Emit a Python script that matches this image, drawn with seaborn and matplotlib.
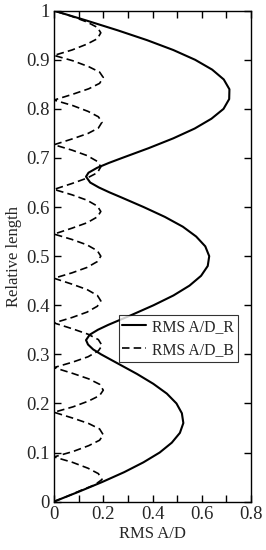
"""
RMS A/D along the relative length: R and B curves.
"""

import matplotlib

matplotlib.use("Agg")
import matplotlib.pyplot as plt
import numpy as np
import pandas as pd
import seaborn as sns
from matplotlib.ticker import FuncFormatter, MultipleLocator

# solid curve, RMS A/D_R
r_length = [0.00, 0.02, 0.04, 0.06, 0.08, 0.10, 0.12, 0.14, 0.16, 0.18,
            0.20, 0.22, 0.24, 0.26, 0.28, 0.30, 0.31, 0.32, 0.329, 0.34,
            0.35, 0.36, 0.38, 0.40, 0.42, 0.44, 0.46, 0.48, 0.50, 0.52,
            0.54, 0.56, 0.58, 0.60, 0.62, 0.63, 0.64, 0.65, 0.662, 0.67,
            0.68, 0.69, 0.70, 0.72, 0.74, 0.76, 0.78, 0.80, 0.82, 0.84,
            0.86, 0.88, 0.90, 0.92, 0.94, 0.96, 0.98, 1.00]
r_rms = [0.000, 0.100, 0.196, 0.285, 0.363, 0.429, 0.478, 0.511, 0.525, 0.519,
         0.497, 0.458, 0.403, 0.337, 0.264, 0.191, 0.159, 0.138, 0.130, 0.145,
         0.178, 0.220, 0.314, 0.404, 0.485, 0.550, 0.597, 0.624, 0.630, 0.614,
         0.577, 0.523, 0.450, 0.364, 0.272, 0.225, 0.182, 0.147, 0.130, 0.140,
         0.175, 0.223, 0.276, 0.384, 0.484, 0.571, 0.639, 0.688, 0.711, 0.712,
         0.689, 0.642, 0.573, 0.484, 0.378, 0.259, 0.132, 0.000]

# dashed curve, RMS A/D_B (eleven lobes)
b_length = [0.000, 0.011, 0.023, 0.034, 0.045, 0.057, 0.068, 0.080, 0.091,
            0.102, 0.114, 0.125, 0.136, 0.148, 0.159, 0.170, 0.182,
            0.193, 0.205, 0.216, 0.227, 0.239, 0.250, 0.261, 0.273,
            0.284, 0.295, 0.307, 0.318, 0.330, 0.341, 0.352, 0.364,
            0.375, 0.386, 0.398, 0.409, 0.420, 0.432, 0.443, 0.455,
            0.466, 0.477, 0.489, 0.500, 0.511, 0.523, 0.534, 0.545,
            0.557, 0.568, 0.580, 0.591, 0.602, 0.614, 0.625, 0.636,
            0.648, 0.659, 0.670, 0.682, 0.693, 0.705, 0.716, 0.727,
            0.739, 0.750, 0.761, 0.773, 0.784, 0.795, 0.807, 0.818,
            0.830, 0.841, 0.852, 0.864, 0.875, 0.886, 0.898, 0.909,
            0.920, 0.932, 0.943, 0.955, 0.966, 0.977, 0.989, 1.000]
b_rms = [0.000, 0.055, 0.110, 0.165, 0.195, 0.180, 0.138, 0.075, 0.000,
         0.077, 0.141, 0.185, 0.200, 0.185, 0.141, 0.077, 0.000,
         0.077, 0.141, 0.185, 0.200, 0.185, 0.141, 0.077, 0.000,
         0.075, 0.138, 0.180, 0.195, 0.180, 0.138, 0.075, 0.000,
         0.073, 0.134, 0.176, 0.190, 0.176, 0.134, 0.073, 0.000,
         0.073, 0.134, 0.176, 0.190, 0.176, 0.134, 0.073, 0.000,
         0.073, 0.134, 0.176, 0.190, 0.176, 0.134, 0.073, 0.000,
         0.073, 0.134, 0.176, 0.190, 0.176, 0.134, 0.073, 0.000,
         0.075, 0.138, 0.180, 0.195, 0.180, 0.138, 0.075, 0.000,
         0.077, 0.141, 0.185, 0.200, 0.185, 0.141, 0.077, 0.000,
         0.073, 0.134, 0.176, 0.190, 0.176, 0.134, 0.070, 0.000]

x_ticks = [0, 0.2, 0.4, 0.6, 0.8]

sns.set_style("ticks")
plt.rcParams["font.family"] = ["Liberation Serif", "DejaVu Serif"]

df_r = pd.DataFrame({"length": r_length, "rms": r_rms})
df_b = pd.DataFrame({"length": b_length, "rms": b_rms})

fig = plt.figure(figsize=(2.66, 5.5), dpi=100)
ax = fig.add_axes([0.203, 0.088, 0.741, 0.8925])

sns.lineplot(data=df_r, x="rms", y="length", orient="y", ax=ax,
             color="black", linewidth=1.5, label="RMS A/D_R")
sns.lineplot(data=df_b, x="rms", y="length", orient="y", ax=ax,
             color="black", linewidth=1.2, linestyle=(0, (4.5, 2.5)),
             label="RMS A/D_B")

ax.set_xlim(0, 0.8)
ax.set_ylim(0, 1)
ax.set_xticks(x_ticks)
ax.xaxis.set_minor_locator(MultipleLocator(0.1))
ax.yaxis.set_major_locator(MultipleLocator(0.1))
fmt = FuncFormatter(lambda v, _: f"{v:g}")
ax.xaxis.set_major_formatter(fmt)
ax.yaxis.set_major_formatter(fmt)
ax.tick_params(which="both", direction="in", top=True, right=True,
               length=5, width=1.0, color="black", labelsize=13.5, pad=3)
for sp in ax.spines.values():
    sp.set_linewidth(1.0)
    sp.set_color("black")

ax.set_xlabel("RMS A/D", fontsize=12, labelpad=2)
ax.set_ylabel("Relative length", fontsize=12, labelpad=3)

leg = ax.legend(loc="lower right", bbox_to_anchor=(0.934, 0.285),
                borderaxespad=0, frameon=True, fancybox=False, fontsize=11.3,
                handlelength=1.5, handletextpad=0.4, borderpad=0.25,
                labelspacing=0.45)
leg.get_frame().set_edgecolor("black")
leg.get_frame().set_linewidth(0.8)

fig.savefig("out.png", dpi=100)
plt.close(fig)
